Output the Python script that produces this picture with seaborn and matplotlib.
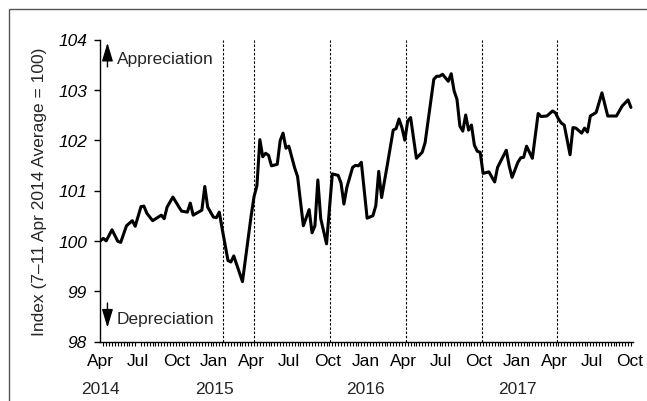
import numpy as np
import pandas as pd
import matplotlib
matplotlib.use("Agg")
import matplotlib.pyplot as plt
import matplotlib.dates as mdates
from matplotlib.patches import Rectangle
import seaborn as sns

# ── Data ──────────────────────────────────────────────────────────────────────

# base week: 7-11 Apr 2014 (index = 100)
START = "2014-04-07"

# weeks since START and index level
semanas = [0, 1, 2, 4, 6, 7, 9, 11, 12, 14, 15, 16, 18, 21, 22, 23, 25, 27, 28,
           30, 31, 32, 35, 36, 37, 39, 40, 41, 42, 44, 45, 46, 49, 52, 53, 54,
           55, 56, 57, 58, 59, 61, 62, 63, 64, 65, 67, 68, 70, 72, 73, 74, 75,
           76, 78, 79, 80, 82, 83, 84, 85, 87, 88, 89, 90, 92, 94, 95, 96, 97,
           99, 101, 102, 103, 104, 105, 106, 107, 109, 111, 112, 114, 115, 116,
           117, 118, 119, 120, 121, 122, 123, 124, 125, 126, 127, 128, 129, 130,
           131, 132, 134, 136, 137, 140, 141, 142, 144, 145, 146, 147, 149, 151,
           152, 154, 156, 157, 158, 159, 160, 162, 163, 164, 166, 167, 168, 169,
           171, 173, 175, 178, 180, 182, 183]

indice = [100.00, 100.05, 100.00, 100.22, 99.99, 99.97, 100.30, 100.40, 100.29,
          100.68, 100.69, 100.55, 100.40, 100.51, 100.44, 100.67, 100.87, 100.68,
          100.59, 100.57, 100.75, 100.51, 100.61, 101.08, 100.67, 100.47, 100.46,
          100.57, 100.24, 99.61, 99.58, 99.70, 99.19, 100.50, 100.88, 101.10,
          102.01, 101.67, 101.74, 101.70, 101.49, 101.52, 101.99, 102.14, 101.84,
          101.88, 101.45, 101.28, 100.30, 100.62, 100.16, 100.30, 101.21, 100.44,
          99.94, 100.63, 101.33, 101.30, 101.15, 100.73, 101.06, 101.46, 101.50,
          101.49, 101.56, 100.45, 100.50, 100.70, 101.38, 100.86, 101.52, 102.20,
          102.23, 102.42, 102.25, 102.00, 102.38, 102.45, 101.64, 101.76, 101.95,
          102.78, 103.21, 103.27, 103.27, 103.31, 103.24, 103.17, 103.32, 102.98,
          102.81, 102.28, 102.18, 102.50, 102.20, 102.30, 101.90, 101.78, 101.76,
          101.34, 101.37, 101.17, 101.46, 101.80, 101.49, 101.26, 101.56, 101.65,
          101.66, 101.88, 101.64, 102.53, 102.47, 102.48, 102.58, 102.54, 102.42,
          102.34, 102.30, 101.71, 102.25, 102.24, 102.14, 102.24, 102.16, 102.48,
          102.55, 102.94, 102.48, 102.48, 102.68, 102.80, 102.65]

# policy statement dates (dashed lines)
fechas_politica = ["2015-01-28", "2015-04-14", "2015-10-14",
                   "2016-04-14", "2016-10-14", "2017-04-13"]

etiquetas_mes = ["Apr", "Jul", "Oct", "Jan", "Apr", "Jul", "Oct", "Jan",
                 "Apr", "Jul", "Oct", "Jan", "Apr", "Jul", "Oct"]
etiquetas_anio = ["2014", "2015", "2016", "2017"]
fechas_anio = ["2014-04-07", "2015-01-07", "2016-01-07", "2017-01-07"]
ticks_y = [98, 99, 100, 101, 102, 103, 104]


# ── Figure ────────────────────────────────────────────────────────────────────

sns.set_style("white")
plt.rcParams["font.family"] = ["Liberation Sans", "DejaVu Sans"]
plt.rcParams["font.size"] = 12.5

W, H = 647, 402
fig = plt.figure(figsize=(W / 100, H / 100), dpi=100)
ax = fig.add_axes([100 / W, 1 - 342.5 / H, 533 / W, 302 / H])

df = pd.DataFrame({
    "fecha": pd.Timestamp(START) + pd.to_timedelta(np.array(semanas) * 7, unit="D"),
    "indice": indice,
})
sns.lineplot(data=df, x="fecha", y="indice", color="black", linewidth=2.2, ax=ax)

for f in fechas_politica:
    ax.axvline(pd.Timestamp(f), color="black", linewidth=0.8,
               linestyle=(0, (2.2, 1.6)), zorder=1)

# axes limits and ticks
ax.set_xlim(pd.Timestamp("2014-04-06"), pd.Timestamp("2017-10-14"))
ax.set_ylim(98, 104)
ax.set_yticks(ticks_y)
ax.set_yticklabels([str(t) for t in ticks_y], fontstyle="italic")

pos_mes = pd.date_range("2014-04-01", "2017-10-01", freq="QS-JAN") + pd.Timedelta(days=6)
ax.set_xticks(pos_mes)
ax.set_xticklabels(etiquetas_mes)
ax.xaxis.set_minor_locator(mdates.WeekdayLocator(byweekday=mdates.MO))

ax.tick_params(axis="x", which="major", length=0, pad=8, colors="black")
ax.tick_params(axis="x", which="minor", length=3, width=0.8, direction="out",
               color="black", bottom=True)
ax.tick_params(axis="y", which="major", length=4.3, width=1, direction="out",
               pad=5, colors="black", left=True)

for a, f in zip(etiquetas_anio, fechas_anio):
    ax.annotate(a, xy=(pd.Timestamp(f), 0), xycoords=("data", "axes fraction"),
                xytext=(0, -37), textcoords="offset points",
                ha="center", va="baseline")

ax.set_xlabel("")
ax.set_ylabel("Index (7\u201311 Apr 2014 Average = 100)", labelpad=8)

sns.despine(ax=ax)
for lado in ["left", "bottom"]:
    ax.spines[lado].set_color("black")
    ax.spines[lado].set_linewidth(1)

# appreciation / depreciation arrows
x_flecha = pd.Timestamp("2014-04-24")
estilo = "-|>,head_length=0.9,head_width=0.27"
ax.annotate("", xy=(x_flecha, 103.99), xytext=(x_flecha, 103.40),
            arrowprops=dict(arrowstyle=estilo, color="black", lw=1))
ax.annotate("", xy=(x_flecha, 98.22), xytext=(x_flecha, 98.82),
            arrowprops=dict(arrowstyle=estilo, color="black", lw=1))
ax.text(pd.Timestamp("2014-05-17"), 103.54, "Appreciation", va="baseline")
ax.text(pd.Timestamp("2014-05-17"), 98.37, "Depreciation", va="baseline")

# outer frame
fig.patches.append(Rectangle((9 / W, -0.1), 1.2, 1.1 - 10 / H,
                             transform=fig.transFigure, fill=False,
                             edgecolor="#555555", linewidth=1))

fig.savefig("out.png", dpi=100)
